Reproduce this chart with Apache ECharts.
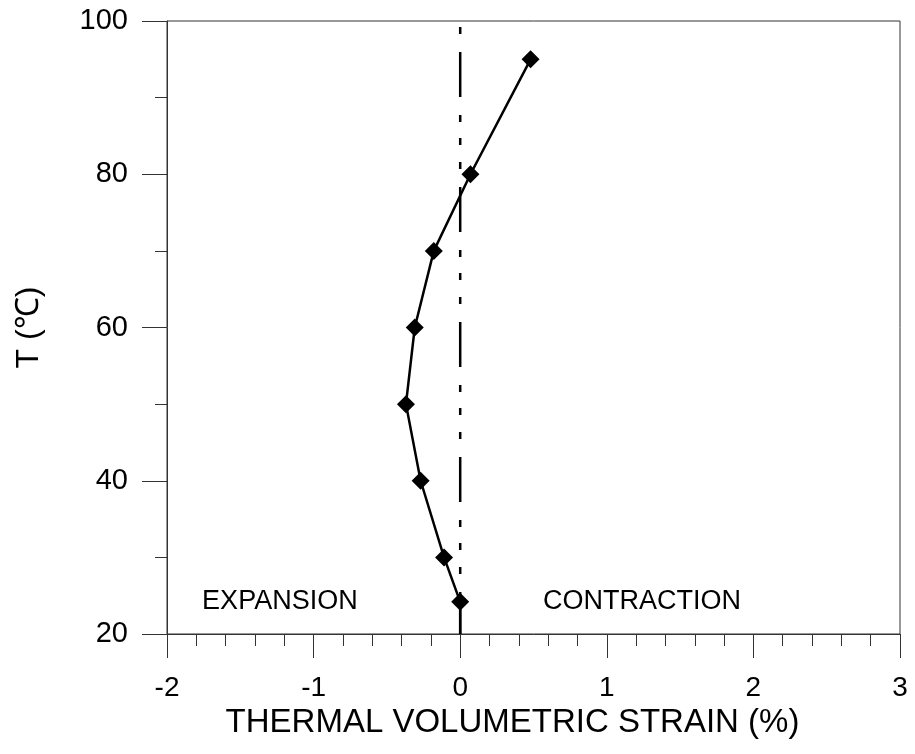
<!DOCTYPE html>
<html>
<head>
<meta charset="utf-8">
<script src="https://cdn.jsdelivr.net/npm/echarts@6/dist/echarts.min.js"></script>
<style>
  html, body { margin: 0; padding: 0; background: #fff; }
  #chart { width: 915px; height: 754px; }
</style>
</head>
<body>
<div id="chart"></div>
<script>
/* 数据 */
// 体积应变 (%)
var strainList = [0.48, 0.07, -0.18, -0.31, -0.37, -0.27, -0.11, 0.0];
// 温度 T (℃)
var tempList = [95, 80, 70, 60, 50, 40, 30, 24.2];
// 曲线底端落到坐标轴
var baseStrain = 0;
var baseTemp = 20;
// 零线
var zeroLineX = [0, 0];
var zeroLineY = [100, 20];
// 区域文字
var noteNames = ['EXPANSION', 'CONTRACTION'];
var noteX = [-1.23, 1.24];
var noteY = [24.2, 24.2];

var FONT = 'Liberation Sans, Arial, sans-serif';

var curveData = [];
for (var i = 0; i < strainList.length; i++) {
	curveData.push([strainList[i], tempList[i]]);
}
curveData.push({ value: [baseStrain, baseTemp], symbol: 'none' });

var zeroData = [];
for (var j = 0; j < zeroLineX.length; j++) {
	zeroData.push([zeroLineX[j], zeroLineY[j]]);
}

var noteData = [];
for (var k = 0; k < noteNames.length; k++) {
	noteData.push([noteX[k], noteY[k], noteNames[k]]);
}

var myChart = echarts.init(document.getElementById('chart'));

var option = {
	backgroundColor: '#fff',
	animation: false,
	grid: {
		left: 167, right: 15, top: 21, bottom: 120,
		show: true, borderColor: '#333', borderWidth: 1
	},
	xAxis: {
		type: 'value',
		min: -2, max: 3, interval: 1,
		name: 'THERMAL VOLUMETRIC STRAIN (%)',
		nameLocation: 'middle',
		nameGap: 70,
		nameTextStyle: { fontFamily: FONT, fontSize: 33, color: '#000', padding: [0, 42, 0, 0] },
		axisLine: { onZero: false, lineStyle: { color: '#333', width: 1 } },
		axisTick: { length: 24, lineStyle: { color: '#333' } },
		minorTick: { show: true, splitNumber: 5, length: 12, lineStyle: { color: '#333' } },
		splitLine: { show: false },
		axisLabel: { fontFamily: FONT, fontSize: 28, color: '#000', margin: 40 }
	},
	yAxis: {
		type: 'value',
		min: 20, max: 100, interval: 20,
		name: 'T (℃)',
		nameLocation: 'middle',
		nameGap: 122,
		nameTextStyle: { fontFamily: FONT, fontSize: 32, color: '#000' },
		axisLine: { onZero: false, lineStyle: { color: '#333', width: 1 } },
		axisTick: { length: 25, lineStyle: { color: '#333' } },
		minorTick: { show: true, splitNumber: 2, length: 12, lineStyle: { color: '#333' } },
		splitLine: { show: false },
		axisLabel: { fontFamily: FONT, fontSize: 29, color: '#000', margin: 39 }
	},
	series: [
		{
			// 零应变分界线 (点划线)
			type: 'line',
			data: zeroData,
			symbol: 'none',
			silent: true,
			z: 1,
			lineStyle: { color: '#000', width: 2.5, type: [45, 18, 7, 16, 7, 17, 7, 18], dashOffset: 104 }
		},
		{
			type: 'line',
			data: curveData,
			symbol: 'diamond',
			symbolSize: 18,
			silent: true,
			z: 3,
			itemStyle: { color: '#000' },
			lineStyle: { color: '#000', width: 2.5 }
		},
		{
			type: 'scatter',
			data: noteData,
			symbolSize: 0,
			silent: true,
			itemStyle: { opacity: 1, color: '#000' },
			label: {
				show: true,
				position: 'inside',
				formatter: function (p) { return p.value[2]; },
				fontFamily: FONT,
				fontSize: 27,
				color: '#000'
			}
		}
	]
};
myChart.setOption(option);
</script>
</body>
</html>
